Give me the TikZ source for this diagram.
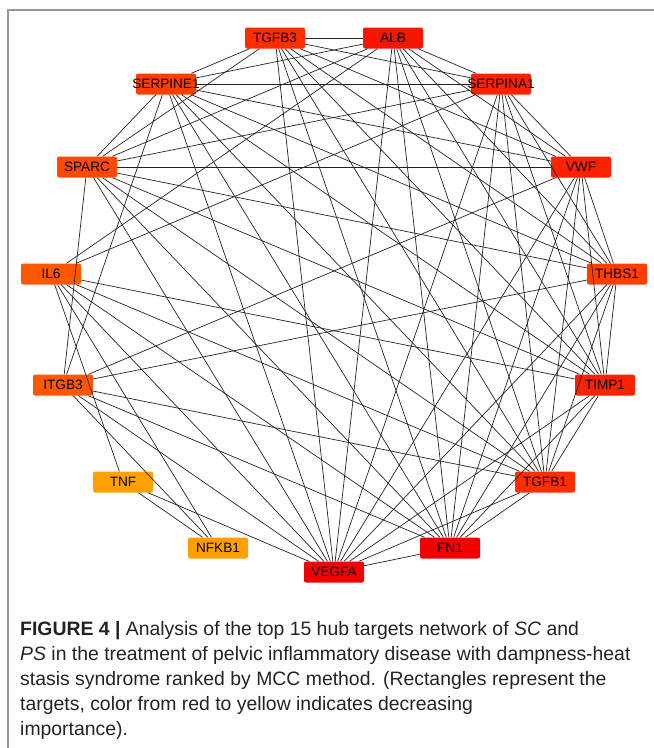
\documentclass[tikz,border=0pt]{standalone}
\usepackage{fontspec}
\setmainfont{Liberation Sans}
\usepackage{tikz}
\usetikzlibrary{calc, positioning}
\definecolor{HubRed}{RGB}{243, 0, 0}
\definecolor{HubScarlet}{RGB}{246, 22, 0}
\definecolor{HubVermilion}{RGB}{250, 34, 0}
\definecolor{HubFlame}{RGB}{253, 46, 0}
\definecolor{HubTangelo}{RGB}{255, 62, 0}
\definecolor{HubPumpkin}{RGB}{255, 74, 5}
\definecolor{HubOrange}{RGB}{255, 86, 0}
\definecolor{HubAmber}{RGB}{255, 160, 0}
\definecolor{EdgeInk}{RGB}{35, 35, 35}
\definecolor{FrameGrey}{RGB}{150, 150, 150}
\definecolor{CaptionInk}{RGB}{35, 35, 35}

\begin{document}
\begin{tikzpicture}[x=1pt, y=-1pt,
    hub/.style={draw=none, rounded corners=2pt, minimum width=60pt, minimum height=21pt,
        inner sep=0pt, font=\fontsize{13.6}{13.6}\selectfont, text=black},
    link/.style={EdgeInk, line width=0.7pt}]
    \useasboundingbox (0,0) rectangle (654,748);

    % Cadre
    \draw[FrameGrey, line width=1.2pt] (8,748) -- (8,10) -- (654,10);

    % Cercle des cibles
    \node[hub, fill=HubFlame]     (tgfb3)    at (275,38)  {TGFB3};
    \node[hub, fill=HubScarlet]   (alb)      at (393,38)  {ALB};
    \node[hub, fill=HubTangelo]   (serpine1) at (166,84)  {\makebox[0pt]{SERPINE1}};
    \node[hub, fill=HubVermilion] (serpina1) at (501,84)  {\makebox[0pt]{SERPINA1}};
    \node[hub, fill=HubPumpkin]   (sparc)    at (87,167)  {SPARC};
    \node[hub, fill=HubVermilion] (vwf)      at (581,167) {VWF};
    \node[hub, fill=HubOrange]    (il6)      at (51,274)  {IL6};
    \node[hub, fill=HubTangelo]   (thbs1)    at (617,274) {THBS1};
    \node[hub, fill=HubOrange]    (itgb3)    at (63,385)  {ITGB3};
    \node[hub, fill=HubVermilion] (timp1)    at (605,385) {TIMP1};
    \node[hub, fill=HubAmber]     (tnf)      at (123,482) {TNF};
    \node[hub, fill=HubFlame]     (tgfb1)    at (545,482) {TGFB1};
    \node[hub, fill=HubAmber]     (nfkb1)    at (218,548) {NFKB1};
    \node[hub, fill=HubRed]       (fn1)      at (450,548) {FN1};
    \node[hub, fill=HubRed]       (vegfa)    at (334,572) {VEGFA};

    % Interactions
    \foreach \a/\b in {tgfb3/alb, tgfb3/serpine1, tgfb3/serpina1, tgfb3/sparc, tgfb3/vwf,
        tgfb3/thbs1, tgfb3/timp1, tgfb3/tgfb1, tgfb3/fn1, tgfb3/vegfa,
        alb/serpine1, alb/serpina1, alb/sparc, alb/vwf, alb/thbs1, alb/timp1,
        alb/tgfb1, alb/fn1, alb/vegfa,
        serpine1/serpina1, serpine1/sparc, serpine1/vwf, serpine1/thbs1,
        serpine1/timp1, serpine1/tgfb1, serpine1/fn1, serpine1/vegfa,
        serpina1/sparc, serpina1/vwf, serpina1/thbs1, serpina1/timp1,
        serpina1/tgfb1, serpina1/fn1, serpina1/vegfa,
        sparc/vwf, sparc/thbs1, sparc/timp1, sparc/tgfb1, sparc/fn1, sparc/vegfa,
        vwf/thbs1, vwf/timp1, vwf/tgfb1, vwf/fn1, vwf/vegfa,
        thbs1/timp1, thbs1/tgfb1, thbs1/fn1, thbs1/vegfa,
        timp1/tgfb1, timp1/fn1, timp1/vegfa,
        tgfb1/fn1, tgfb1/vegfa, fn1/vegfa,
        il6/alb, il6/serpina1, il6/timp1, il6/tgfb1, il6/fn1, il6/vegfa,
        il6/tnf, il6/nfkb1,
        itgb3/serpine1, itgb3/sparc, itgb3/vwf, itgb3/thbs1, itgb3/tgfb1,
        itgb3/fn1, itgb3/vegfa, itgb3/nfkb1,
        tnf/nfkb1, tnf/vegfa}
        \draw[link] (\a) -- (\b);

    % Legende
    \node[anchor=north west, inner sep=0pt, align=left, text=CaptionInk,
        font=\fontsize{19.4}{25}\selectfont] (caption) at (20,621)
        {\textbf{FIGURE 4 |} Analysis of the top 15 hub targets network of \textit{SC} and\\
         \textit{PS} in the treatment of pelvic inflammatory disease with dampness-heat\\
         stasis syndrome ranked by MCC method. (Rectangles represent the\\
         targets, color from red to yellow indicates decreasing\\
         importance).};
\end{tikzpicture}
\end{document}
